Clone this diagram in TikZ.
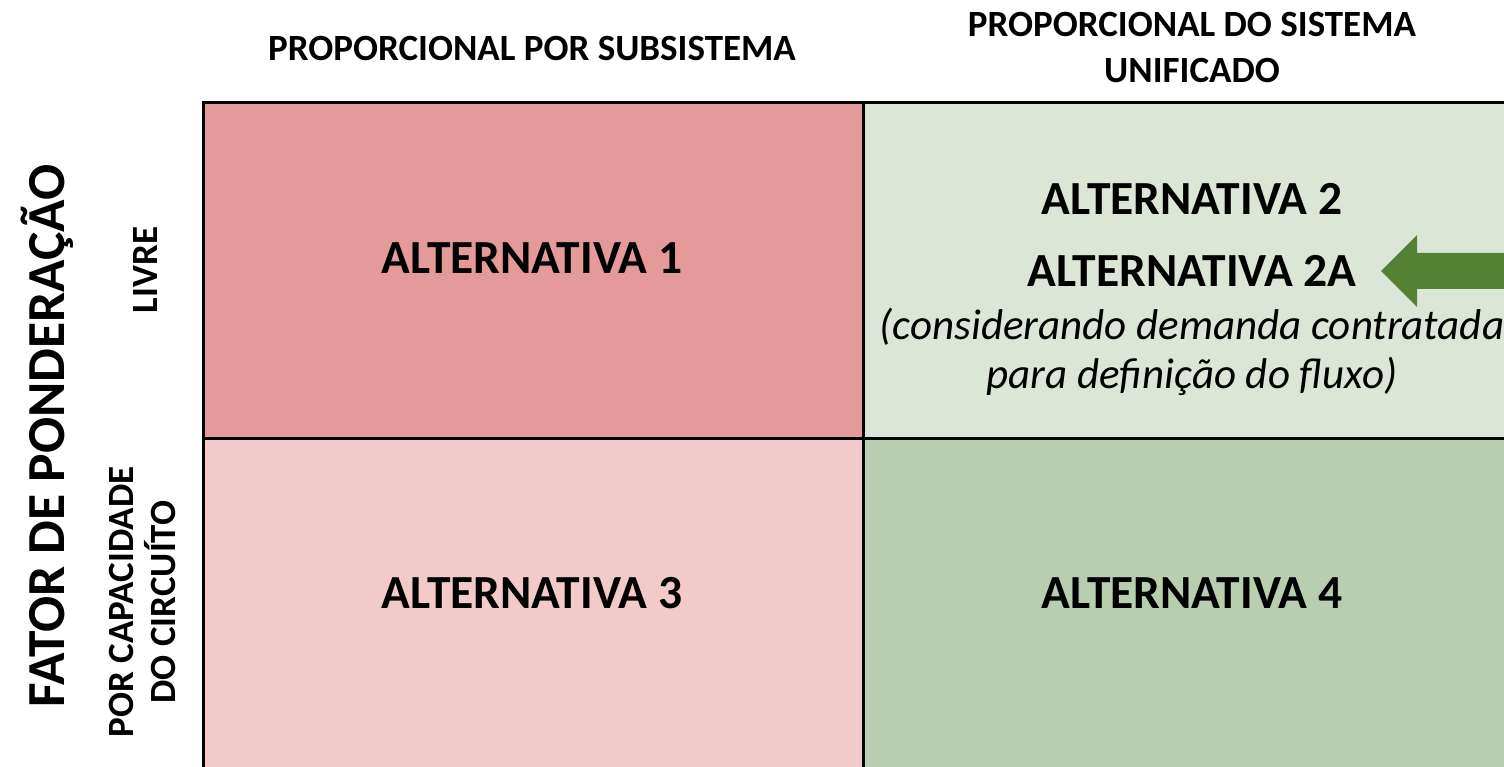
\documentclass[tikz,border=0pt]{standalone}
\usepackage{fontspec}
\setmainfont{Carlito}
\definecolor{cRed}{HTML}{E59A9A}
\definecolor{cPink}{HTML}{F2CACA}
\definecolor{cLight}{HTML}{DCE6D6}
\definecolor{cGreen}{HTML}{B9CEAF}
\definecolor{cArrow}{HTML}{548235}
\tikzset{
  cellbox/.style={draw=black, line width=3pt, minimum width=660pt, minimum height=336pt, inner sep=0pt, anchor=north west},
  alt/.style={font=\bfseries\fontsize{47.5}{52}\selectfont, inner sep=0pt},
  head/.style={font=\bfseries\fontsize{37}{46}\selectfont, align=center, inner sep=0pt},
  side/.style={font=\bfseries\fontsize{37}{42}\selectfont, align=center, inner sep=0pt, rotate=90},
  note/.style={font=\itshape\fontsize{43}{49}\selectfont, align=center, inner sep=0pt}
}
\begin{document}
\begin{tikzpicture}[x=1pt,y=-1pt]
\useasboundingbox (0,0) rectangle (1504,767);
\clip (0,0) rectangle (1504,767);
\fill[white] (0,0) rectangle (1504,767);
\node[cellbox, fill=cRed]   (c1) at (202,101) {};
\node[cellbox, fill=cLight] (c2) at (862,101) {};
\node[cellbox, fill=cPink]  (c3) at (202,437) {};
\node[cellbox, fill=cGreen] (c4) at (862,437) {};
\node[head] (h1) at (532,49) {PROPORCIONAL POR SUBSISTEMA};
\node[head] (h2) at (1192,48) {PROPORCIONAL DO SISTEMA\\UNIFICADO};
\node[alt] (a1) at (532,258) {ALTERNATIVA 1};
\node[alt] (a2) at (1192,199) {ALTERNATIVA 2};
\node[alt] (a2a) at (1192,271) {ALTERNATIVA 2A};
\node[note] (n2) at (1192,352) {(considerando demanda contratada\\para definição do fluxo)};
\node[alt] (a3) at (532,593) {ALTERNATIVA 3};
\node[alt] (a4) at (1192,593) {ALTERNATIVA 4};
\node[side, font=\bfseries\fontsize{53.5}{60}\selectfont] (f) at (47,436) {FATOR DE PONDERAÇÃO};
\node[side] (l1) at (146,270) {LIVRE};
\node[side] (l2) at (143,602) {POR CAPACIDADE\\DO CIRCUÍTO};
\fill[cArrow] (1381,271) -- (1417,235) -- (1417,253) -- (1520,253) -- (1520,289) -- (1417,289) -- (1417,307) -- cycle;
\coordinate (arrowtip) at (1381,271);
\end{tikzpicture}
\end{document}
